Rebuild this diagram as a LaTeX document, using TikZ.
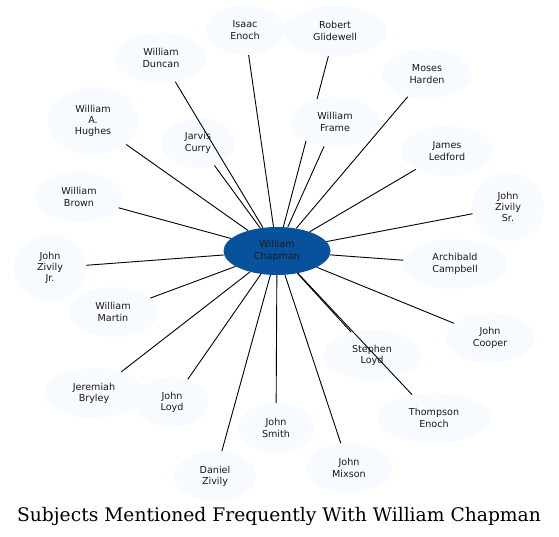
\documentclass[tikz,border=0pt]{standalone}
\usepackage{fontspec}
\usetikzlibrary{shapes.geometric}
\newfontfamily\nodefont{DejaVu Sans}
\newfontfamily\titlefont{DejaVu Serif}
\definecolor{leaf}{HTML}{F7FBFF}
\definecolor{hub}{HTML}{08519C}
\pgfdeclarelayer{background}
\pgfdeclarelayer{foreground}
\pgfsetlayers{background,main,foreground}
\begin{document}
\begin{tikzpicture}[x=1pt,y=-1pt,
  person/.style={ellipse,fill=leaf,inner sep=0pt,align=center,
    font=\nodefont\fontsize{9.6}{11.3}\selectfont,text=black!90,
    minimum width=#1,minimum height=50},
  person/.default=88,
  hubnode/.style={ellipse,fill=hub,inner sep=0pt,align=center,
    font=\nodefont\fontsize{9.6}{11.3}\selectfont,text=black!90,
    minimum width=107,minimum height=48},
  link/.style={draw=black,line width=0.9pt}]
\useasboundingbox (0,0) rectangle (559,537);
\node[hubnode] (chap) at (277,251) {William\\Chapman};
\node[person=78] (isaac) at (245,30) {Isaac\\Enoch};
\node[person=91] (duncan) at (161,58) {William\\Duncan};
\node[person=91,minimum height=68] (hughes) at (93,121) {William\\A.\\Hughes};
\node[person=73] (jarvis) at (198,143) {Jarvis\\Curry};
\node[person=87] (brown) at (79,197) {William\\Brown};
\node[person=72,minimum height=67] (zjr) at (50,268) {John\\Zivily\\Jr.};
\node[person=104] (glide) at (335,31) {Robert\\Glidewell};
\node[person=90] (moses) at (427,74) {Moses\\Harden};
\node[person=88] (frame) at (335,122) {William\\Frame};
\node[person=91] (ledford) at (447,151) {James\\Ledford};
\node[person=72,minimum height=68] (zsr) at (508,207) {John\\Zivily\\Sr.};
\node[person=104] (arch) at (455,264) {Archibald\\Campbell};
\node[person=89] (martin) at (113,312) {William\\Martin};
\node[person=100] (bryley) at (94,393) {Jeremiah\\Bryley};
\node[person=73] (jloyd) at (172,402) {John\\Loyd};
\node[person=75] (smith) at (276,428) {John\\Smith};
\node[person=82] (daniel) at (215,476) {Daniel\\Zivily};
\node[person=88] (cooper) at (490,338) {John\\Cooper};
\node[person=97] (sloyd) at (372,355) {Stephen\\Loyd};
\node[person=114] (thompson) at (434,418) {Thompson\\Enoch};
\node[person=86] (mixson) at (349,468) {John\\Mixson};
\begin{pgfonlayer}{background}
  \draw[link] (chap) -- (glide);
\end{pgfonlayer}
\begin{pgfonlayer}{foreground}
  \foreach \n in {isaac,duncan,hughes,jarvis,brown,zjr,moses,frame,ledford,zsr,arch,martin,bryley,jloyd,smith,daniel,cooper,sloyd,thompson,mixson}
    \draw[link] (chap) -- (\n);
\end{pgfonlayer}
\node[font=\titlefont\fontsize{18.7}{20}\selectfont,anchor=base] (title) at (279,521) {Subjects Mentioned Frequently With William Chapman};
\end{tikzpicture}
\end{document}
